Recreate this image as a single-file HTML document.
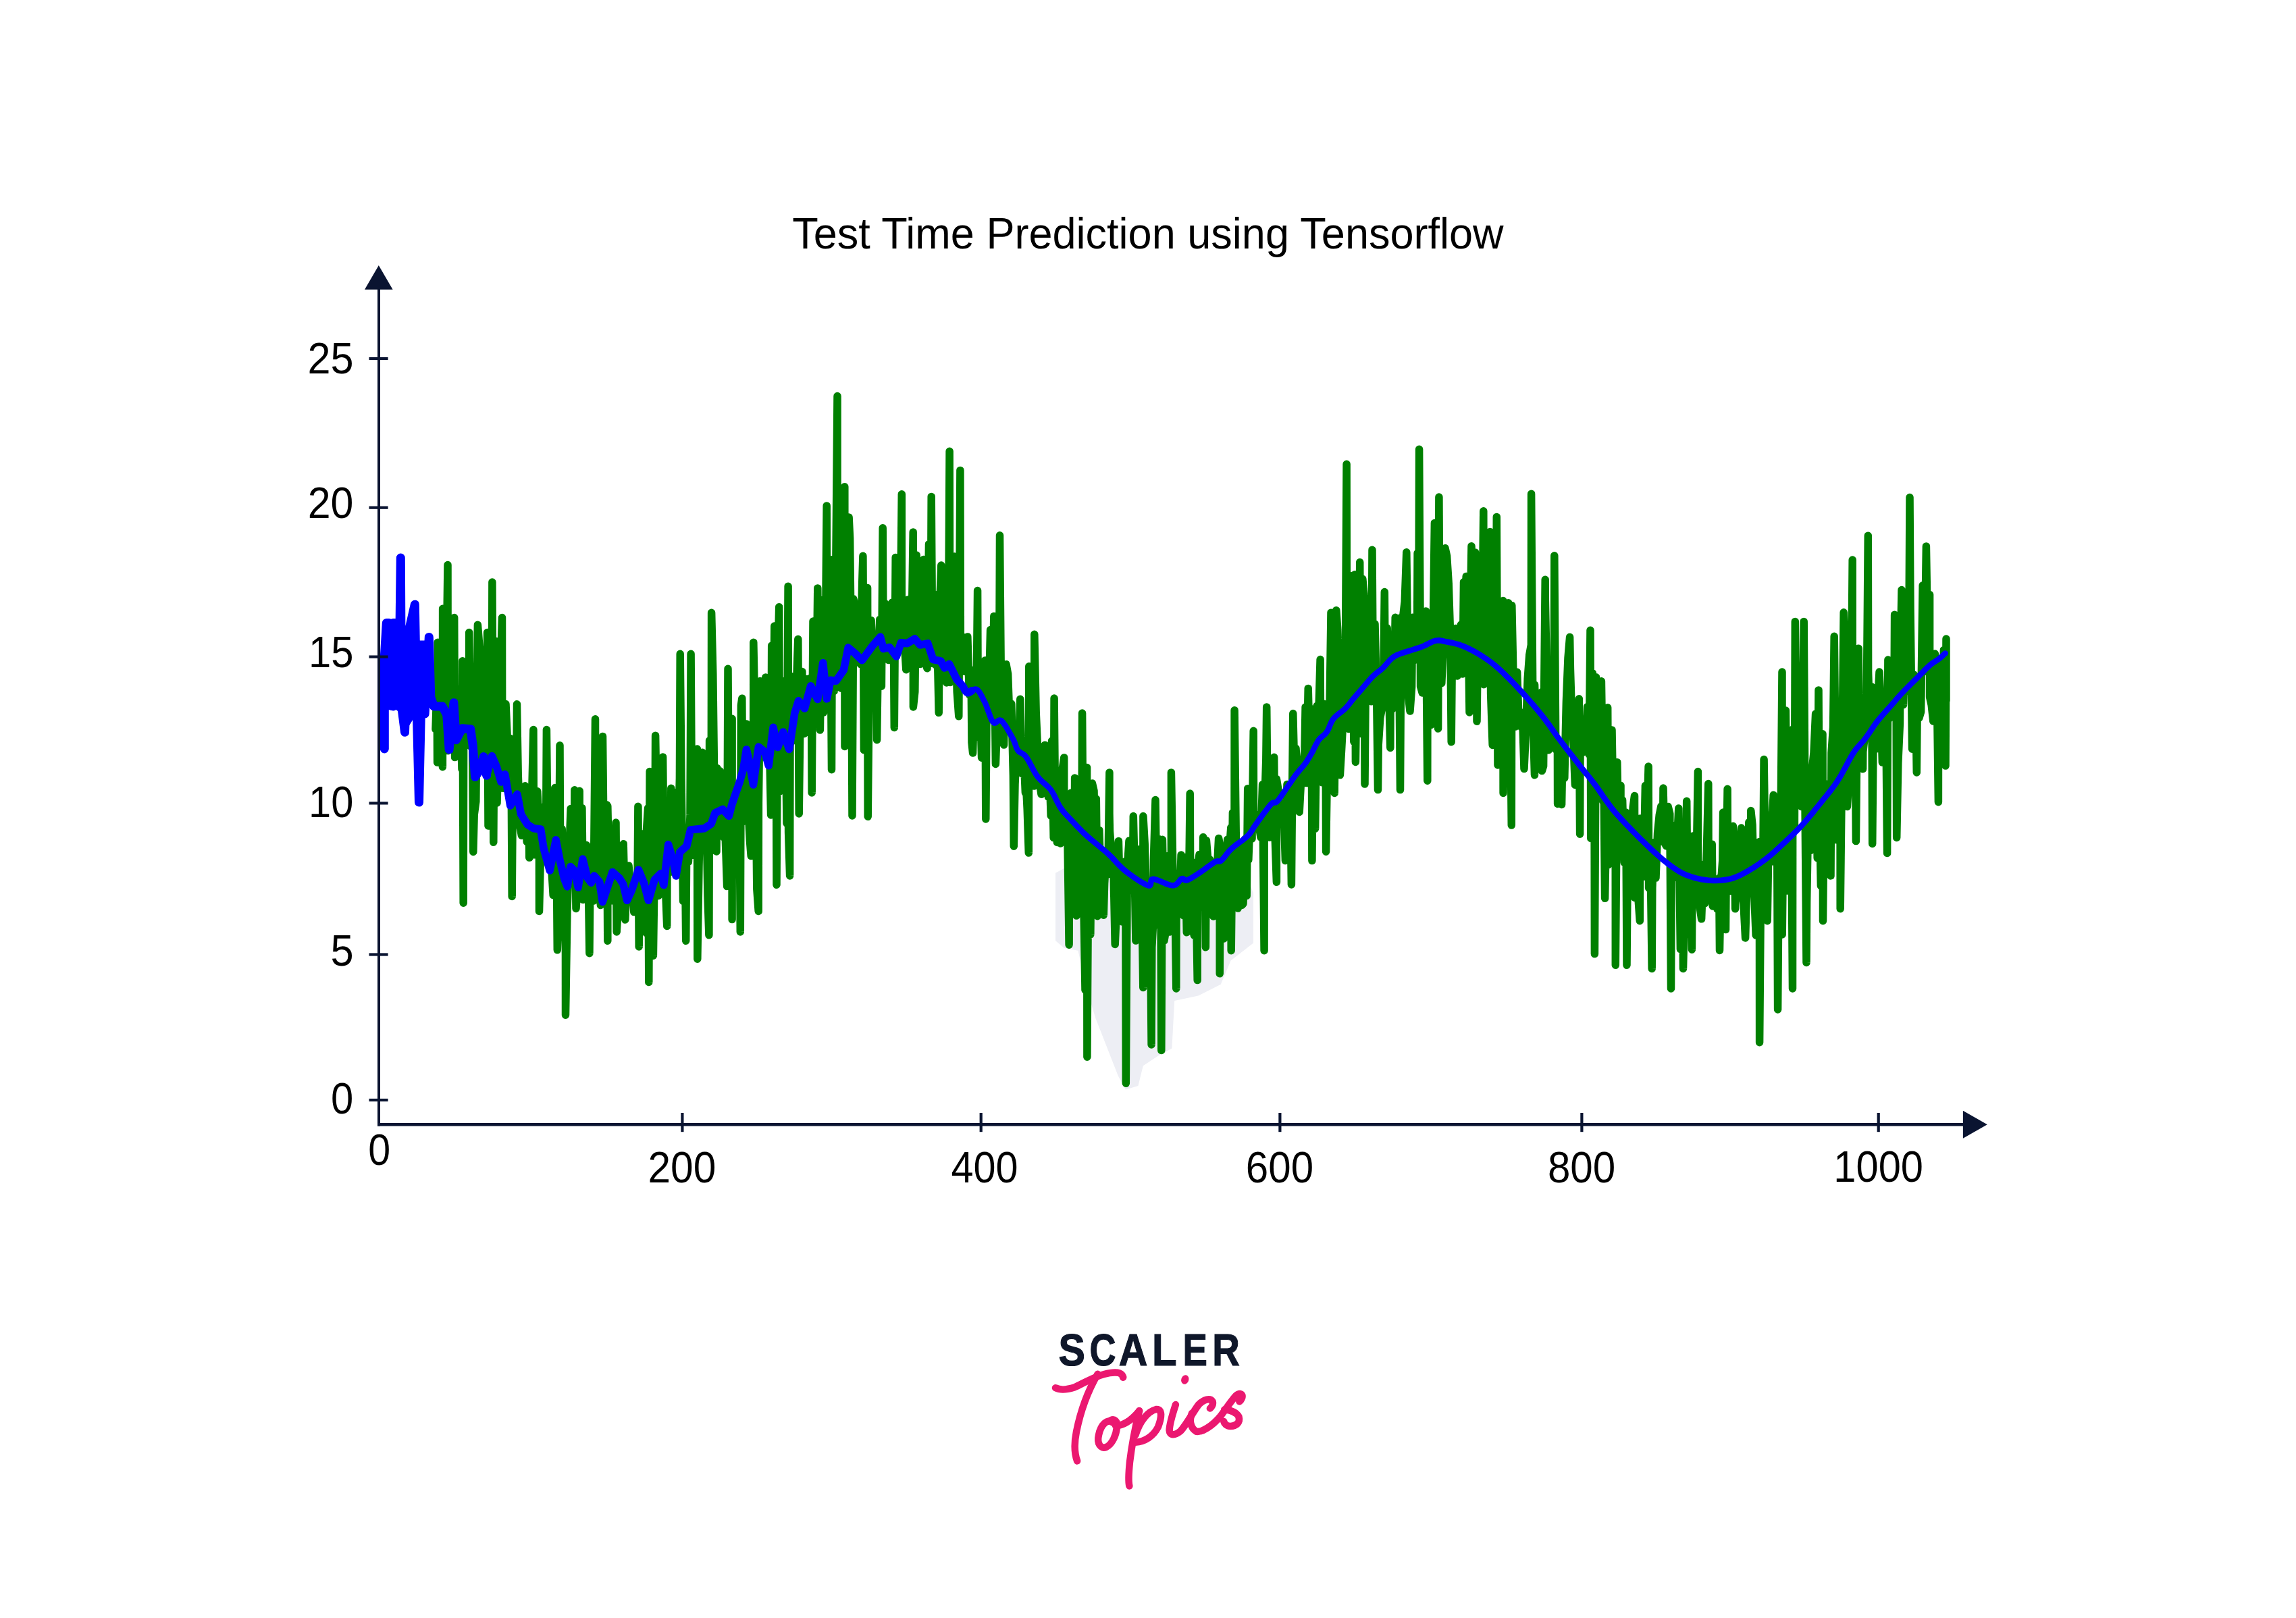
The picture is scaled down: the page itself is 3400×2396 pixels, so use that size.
<!DOCTYPE html>
<html><head><meta charset="utf-8"><style>
html,body{margin:0;padding:0;background:#fff;overflow:hidden;width:3400px;height:2396px;}
svg{display:block;}
text{font-family:"Liberation Sans",sans-serif;}
</style></head><body>
<svg width="3400" height="2396" viewBox="0 0 3400 2396">
<rect width="3400" height="2396" fill="#fff"/>
<text transform="translate(1173.18 367.90) scale(0.9851 1)" font-size="64" font-weight="normal" fill="#000">Test Time Prediction using Tensorflow</text>
<text transform="translate(455.52 552.50) scale(0.9559 1)" font-size="64" font-weight="normal" fill="#000">25</text>
<text transform="translate(455.64 767.30) scale(0.9516 1)" font-size="64" font-weight="normal" fill="#000">20</text>
<text transform="translate(457.05 988.00) scale(0.9336 1)" font-size="64" font-weight="normal" fill="#000">15</text>
<text transform="translate(457.06 1209.80) scale(0.9309 1)" font-size="64" font-weight="normal" fill="#000">10</text>
<text transform="translate(489.44 1430.40) scale(0.9590 1)" font-size="64" font-weight="normal" fill="#000">5</text>
<text transform="translate(490.06 1648.70) scale(0.9348 1)" font-size="64" font-weight="normal" fill="#000">0</text>
<text transform="translate(545.19 1725.40) scale(0.9250 1)" font-size="64" font-weight="normal" fill="#000">0</text>
<text transform="translate(959.46 1750.50) scale(0.9440 1)" font-size="64" font-weight="normal" fill="#000">200</text>
<text transform="translate(1408.44 1750.50) scale(0.9279 1)" font-size="64" font-weight="normal" fill="#000">400</text>
<text transform="translate(1844.85 1750.50) scale(0.9383 1)" font-size="64" font-weight="normal" fill="#000">600</text>
<text transform="translate(2291.88 1750.50) scale(0.9409 1)" font-size="64" font-weight="normal" fill="#000">800</text>
<text transform="translate(2715.36 1750.30) scale(0.9311 1)" font-size="64" font-weight="normal" fill="#000">1000</text>
<polygon points="1563.0,1292.8 1563.0,1392.9 1576.0,1404.0 1596.4,1407.7 1611.2,1470.8 1622.4,1507.9 1655.7,1593.1 1666.9,1613.5 1685.4,1608.0 1692.8,1578.3 1715.1,1563.5 1735.4,1552.4 1739.2,1481.9 1774.4,1474.5 1807.7,1457.8 1822.6,1422.6 1856.0,1396.6 1856.0,1322.5 1833.7,1266.9 1722.5,1322.5 1611.2,1266.9" fill="#edeef4"/>
<polyline points="645.0,1080.0 647.1,1014.2 647.6,1129.1 648.3,951.2 650.2,1082.4 652.8,957.2 655.4,1135.7 655.6,901.2 658.0,1095.6 660.6,1016.7 663.0,836.5 663.2,1111.8 664.9,922.7 665.8,1096.0 668.4,1093.3 671.0,1072.6 672.7,914.6 673.6,1121.6 676.2,1019.6 678.8,1069.4 681.4,1046.8 684.0,1139.0 684.9,978.8 686.2,1337.2 686.6,1096.6 689.2,1079.4 691.8,1052.8 694.4,1087.5 694.7,936.6 697.0,1105.3 699.6,1090.9 700.8,1261.5 702.2,1206.6 704.8,1187.1 707.4,925.2 710.0,958.1 712.6,1105.2 713.0,1062.3 715.2,1086.8 717.8,1135.7 719.1,1100.9 720.4,1138.9 721.6,936.6 723.0,1222.9 725.6,1036.8 728.2,1107.7 728.9,862.1 730.8,1247.3 732.1,1037.9 732.5,948.3 733.4,1187.1 736.0,1189.1 738.6,1102.9 739.4,991.0 741.2,995.5 743.5,914.6 743.8,1167.1 746.4,1167.4 749.0,1042.5 751.6,1099.4 754.2,1165.8 755.7,1093.6 756.8,1094.4 758.2,1327.4 759.4,1171.6 762.0,1189.1 764.6,1190.4 765.5,1042.8 767.2,1146.2 769.8,1222.0 772.4,1237.3 775.0,1219.2 777.6,1163.8 780.2,1246.5 782.8,1189.5 783.8,1270.1 785.4,1259.7 788.0,1161.6 789.9,1080.6 790.6,1265.8 793.2,1231.5 795.8,1171.8 798.4,1222.9 798.5,1349.4 801.0,1245.9 803.6,1261.0 806.2,1195.4 808.8,1190.9 809.4,1080.6 811.4,1268.0 814.0,1233.4 816.6,1282.4 819.2,1325.8 821.8,1166.6 824.4,1291.7 825.3,1406.8 827.0,1367.8 829.0,1103.8 829.6,1259.4 832.2,1227.4 834.8,1337.3 837.4,1302.1 837.5,1503.2 840.0,1349.5 842.6,1265.3 845.2,1197.4 847.8,1281.2 850.4,1262.0 850.9,1169.8 853.0,1345.4 855.6,1306.9 858.2,1171.3 858.3,1331.1 860.8,1205.7 861.9,1196.6 863.4,1332.3 866.0,1325.8 868.6,1251.5 871.2,1301.5 872.9,1411.7 873.8,1317.8 876.4,1319.0 879.0,1334.0 881.5,1064.8 881.6,1311.8 884.2,1295.3 886.8,1282.0 889.4,1340.4 892.0,1126.0 892.5,1090.4 894.6,1293.6 897.2,1307.5 898.6,1191.7 899.8,1393.3 899.8,1193.6 902.4,1318.4 905.0,1257.2 907.6,1333.9 910.2,1301.4 912.0,1218.1 912.8,1328.8 913.2,1379.9 915.4,1343.6 918.0,1320.1 920.6,1275.1 923.2,1249.8 925.8,1362.0 928.4,1303.0 931.0,1282.0 933.6,1313.0 936.2,1302.0 938.8,1350.6 941.4,1311.9 944.0,1311.0 944.9,1194.2 946.2,1401.9 946.6,1258.2 949.2,1332.4 951.8,1234.7 954.4,1341.5 957.0,1381.7 957.1,1235.2 959.6,1196.5 960.8,1454.4 962.2,1142.4 964.8,1331.1 967.4,1415.2 970.0,1228.2 970.6,1089.2 972.6,1210.8 975.2,1326.4 977.8,1237.4 980.4,1258.8 981.6,1120.9 983.0,1253.9 985.6,1317.7 987.7,1371.4 988.2,1243.3 990.8,1292.2 993.4,1259.7 993.8,1167.3 996.0,1188.7 998.6,1238.5 1001.2,1173.4 1003.8,1264.3 1006.4,1152.5 1007.2,968.3 1009.0,1153.6 1011.6,1334.5 1014.2,1246.7 1015.7,1393.3 1016.8,1243.8 1019.4,1276.1 1022.0,1206.9 1023.1,968.3 1024.6,1222.8 1027.2,1266.2 1029.8,1254.8 1032.4,1109.0 1032.8,1420.2 1035.0,1282.6 1037.6,1165.2 1040.2,1114.3 1042.6,1164.9 1042.8,1128.8 1045.4,1179.9 1048.0,1326.7 1049.9,1384.8 1050.6,1096.6 1053.2,1225.9 1053.6,907.3 1055.8,997.4 1058.4,1211.1 1061.0,1261.1 1062.1,1137.5 1063.6,1182.8 1066.2,1141.7 1068.8,1214.0 1071.4,1239.7 1074.0,1233.9 1076.6,1312.5 1078.0,990.3 1079.2,1196.2 1081.8,1142.0 1084.1,1064.3 1084.1,1361.6 1084.4,1168.3 1087.0,1169.1 1089.6,1178.0 1092.2,1164.8 1094.8,1175.4 1096.3,1379.9 1097.4,1044.5 1098.8,1034.3 1100.0,1216.8 1102.6,1113.6 1104.9,1072.8 1105.2,1071.9 1107.8,1194.4 1110.4,1245.0 1112.2,1267.6 1113.0,1176.5 1115.6,1145.4 1115.8,951.2 1118.2,1073.7 1120.8,1316.1 1123.2,1349.4 1123.4,1188.1 1125.6,1008.6 1126.0,1056.1 1128.6,1074.1 1131.2,1121.0 1133.8,1002.9 1136.4,1125.2 1139.0,1079.3 1141.6,1206.9 1142.7,956.1 1144.2,1184.2 1146.8,927.0 1149.4,1102.0 1150.0,1310.3 1152.0,974.1 1153.7,898.8 1154.6,1172.2 1157.2,1101.8 1159.8,1127.3 1162.4,1008.2 1165.0,1219.3 1167.1,868.2 1167.6,1232.5 1169.6,1296.9 1170.2,1000.5 1172.8,1098.0 1175.4,1021.6 1178.0,1061.6 1180.6,980.2 1181.8,946.4 1183.2,1204.9 1185.8,994.0 1187.9,994.7 1188.4,1031.2 1191.0,1086.6 1192.4,1007.1 1193.6,1005.4 1196.2,1025.8 1198.8,1004.7 1201.4,1018.8 1202.2,1173.9 1204.0,920.1 1206.6,985.3 1209.2,1004.6 1210.8,870.9 1211.8,991.5 1214.4,1022.7 1214.4,1081.1 1216.9,888.7 1217.0,976.2 1219.6,1055.1 1222.2,967.5 1224.2,748.9 1224.8,990.7 1227.4,914.5 1230.0,931.4 1231.5,1139.7 1232.6,828.4 1235.2,1023.4 1237.8,842.2 1240.0,586.5 1240.0,899.7 1240.4,893.9 1243.0,1017.5 1245.6,1019.1 1248.2,936.1 1250.8,720.7 1251.0,1105.5 1253.4,1017.7 1256.0,1003.4 1257.1,765.9 1258.6,797.5 1261.2,1037.9 1262.0,1208.0 1263.8,886.9 1266.4,897.2 1269.0,979.9 1271.6,957.9 1274.2,983.6 1276.8,859.7 1277.9,823.3 1279.4,1110.7 1282.0,923.6 1284.6,870.5 1285.2,1209.3 1287.2,1012.4 1289.8,940.9 1290.1,918.5 1292.4,988.5 1295.0,941.9 1297.6,958.7 1298.6,1095.7 1300.2,982.2 1302.8,917.2 1305.4,1016.3 1307.2,781.8 1308.0,931.9 1310.6,893.5 1313.2,961.3 1315.8,977.5 1317.0,932.0 1318.4,939.5 1321.0,892.2 1323.6,984.3 1324.3,1077.4 1326.2,825.4 1328.8,879.2 1331.4,957.1 1334.0,855.2 1335.3,731.8 1335.3,903.4 1336.6,957.3 1339.2,952.0 1341.8,991.8 1344.4,887.9 1347.0,909.3 1349.6,965.9 1352.2,787.9 1352.4,1046.9 1354.8,1024.4 1357.2,822.1 1357.4,905.2 1360.0,903.2 1362.6,983.4 1365.2,956.4 1367.8,828.5 1370.4,981.6 1373.0,989.7 1375.5,805.7 1375.6,931.1 1378.2,945.2 1379.2,735.4 1380.8,982.5 1383.4,880.0 1386.0,985.0 1388.6,980.8 1390.2,1055.5 1391.2,909.0 1393.8,837.1 1395.1,855.1 1396.4,959.7 1399.0,894.2 1401.6,1010.9 1404.2,995.0 1406.1,668.3 1406.8,1010.5 1409.4,1000.0 1412.0,1004.5 1413.4,824.0 1414.6,915.4 1417.2,1024.6 1419.8,1060.8 1421.9,696.4 1422.4,972.9 1425.0,943.1 1427.6,994.3 1430.2,959.5 1432.8,942.9 1435.4,1028.9 1438.0,992.0 1439.0,1099.4 1440.6,1115.1 1443.2,1029.9 1445.8,1052.0 1447.6,874.6 1448.4,1091.2 1451.0,1021.8 1453.6,1122.2 1456.2,990.6 1458.8,977.9 1459.8,1212.9 1461.4,1016.9 1464.0,1040.5 1466.6,932.6 1469.2,1052.7 1471.8,912.5 1474.4,1131.5 1477.0,1058.7 1479.6,1011.1 1480.5,792.8 1482.2,989.4 1484.8,1041.0 1486.6,1103.1 1487.4,1059.5 1490.0,983.7 1492.6,998.0 1495.2,1072.3 1497.8,1042.2 1500.4,1148.5 1501.3,1253.2 1503.0,1161.3 1505.6,1104.4 1508.2,1131.4 1510.8,1035.2 1513.4,1145.7 1516.0,1116.5 1518.4,1173.9 1518.6,1144.6 1521.2,1198.2 1523.3,1263.0 1523.8,986.8 1526.4,1144.2 1529.0,1065.0 1531.6,1164.1 1531.8,939.3 1534.2,1055.1 1536.8,1113.2 1539.4,1158.2 1542.0,1176.2 1544.6,1160.4 1547.2,1103.3 1549.8,1123.9 1552.4,1180.2 1555.0,1172.0 1556.2,1208.0 1557.6,1097.1 1560.2,1240.6 1561.1,1034.0 1562.8,1212.5 1565.4,1247.5 1568.0,1172.1 1570.6,1249.0 1573.2,1139.1 1575.7,1121.9 1575.8,1236.7 1578.4,1175.0 1581.0,1248.6 1583.1,1399.2 1583.6,1271.9 1586.2,1174.0 1588.8,1212.3 1591.4,1222.5 1591.6,1151.9 1594.0,1356.1 1596.6,1303.8 1599.2,1157.9 1601.8,1279.8 1602.6,1056.0 1604.4,1313.6 1607.0,1466.2 1609.6,1136.5 1609.9,1565.2 1612.2,1206.6 1614.8,1383.9 1617.4,1159.9 1620.0,1171.0 1622.6,1302.7 1623.3,1182.9 1625.2,1356.7 1627.0,1233.7 1627.8,1229.3 1630.4,1311.0 1633.0,1270.1 1634.3,1355.2 1635.6,1308.1 1638.2,1263.0 1640.8,1294.7 1642.9,1143.9 1642.9,1204.4 1643.4,1230.8 1646.0,1262.3 1648.6,1268.1 1651.2,1398.4 1653.8,1339.3 1656.4,1245.4 1659.0,1353.8 1661.6,1364.8 1664.2,1280.1 1666.8,1275.2 1667.3,1604.3 1669.4,1284.3 1672.0,1245.1 1674.6,1312.5 1677.2,1318.6 1678.3,1208.6 1679.8,1271.0 1681.9,1393.1 1682.4,1372.4 1685.0,1257.7 1687.6,1282.9 1690.2,1286.0 1692.8,1462.4 1692.9,1208.6 1695.4,1252.8 1698.0,1349.9 1700.6,1382.0 1703.2,1335.8 1705.1,1546.9 1705.8,1402.8 1707.6,1368.7 1708.4,1273.7 1711.0,1184.5 1713.6,1369.6 1716.2,1242.5 1718.8,1289.2 1719.8,1555.4 1721.4,1243.3 1724.0,1392.9 1726.6,1377.4 1729.2,1267.4 1731.8,1380.1 1734.4,1315.2 1734.4,1143.9 1737.0,1297.5 1739.6,1309.5 1741.8,1463.9 1742.2,1293.7 1744.8,1336.5 1747.4,1319.9 1749.1,1265.9 1750.0,1284.5 1752.6,1355.8 1755.2,1269.5 1757.3,1380.8 1757.8,1315.8 1760.4,1322.1 1762.2,1175.0 1763.0,1378.9 1765.6,1276.4 1768.2,1385.2 1770.8,1303.0 1773.2,1451.6 1773.4,1284.9 1776.0,1265.4 1778.6,1321.2 1781.2,1291.3 1781.7,1239.7 1783.8,1246.4 1785.4,1402.8 1786.4,1244.5 1789.0,1275.9 1791.6,1272.7 1794.2,1342.0 1796.8,1357.1 1799.4,1323.9 1802.0,1294.4 1804.6,1241.4 1806.2,1249.5 1806.2,1441.8 1807.2,1273.8 1809.8,1319.2 1812.4,1389.9 1815.0,1318.0 1817.6,1243.1 1820.2,1262.8 1822.8,1225.5 1823.2,1407.7 1825.4,1203.4 1828.0,1241.6 1828.1,1051.7 1830.6,1263.7 1833.2,1345.1 1835.8,1249.1 1838.4,1317.1 1839.1,1340.5 1841.0,1338.1 1843.6,1242.3 1846.2,1326.6 1847.7,1167.7 1848.8,1273.5 1851.4,1204.0 1854.0,1242.1 1856.2,1082.3 1856.6,1224.8 1859.2,1207.3 1861.8,1206.6 1864.4,1224.2 1867.0,1240.1 1869.6,1161.8 1872.1,1407.7 1872.2,1205.6 1874.8,1124.6 1875.7,1046.9 1877.4,1217.8 1880.0,1240.1 1882.6,1205.0 1885.2,1210.7 1886.7,1121.3 1887.8,1229.9 1890.4,1306.3 1890.4,1153.7 1893.0,1170.0 1895.6,1216.2 1898.2,1219.1 1900.8,1189.1 1903.4,1274.5 1906.0,1161.4 1908.6,1210.4 1911.2,1221.6 1912.4,1310.0 1913.8,1150.1 1914.8,1056.6 1916.4,1123.1 1919.0,1108.4 1921.6,1153.0 1924.2,1202.5 1926.8,1152.1 1929.4,1142.9 1932.0,1110.0 1933.1,1046.9 1934.6,1159.6 1937.2,1019.4 1939.8,1130.0 1942.4,1115.7 1942.9,1274.6 1945.0,1049.9 1947.6,1227.2 1950.2,1045.0 1952.8,1055.5 1955.1,976.6 1955.4,1048.3 1958.0,1158.8 1960.6,1042.3 1963.2,1126.6 1963.6,1261.2 1965.8,1118.7 1968.4,1093.4 1971.0,907.2 1973.6,993.3 1976.2,1174.4 1978.8,903.7 1980.7,931.4 1981.4,958.5 1984.0,1038.1 1984.4,1147.7 1986.6,1109.9 1989.2,1059.7 1991.8,1072.9 1994.1,687.3 1994.4,919.3 1997.0,1079.4 1999.6,1062.2 2001.5,1059.8 2002.2,852.6 2004.8,1098.3 2006.3,850.8 2007.4,1128.5 2010.0,941.5 2012.6,1027.7 2013.7,832.5 2015.2,1086.4 2017.8,857.2 2020.4,883.8 2021.0,1161.1 2023.0,928.6 2025.6,974.5 2028.2,971.5 2030.8,1038.7 2032.0,814.2 2033.4,1017.9 2036.0,923.9 2038.6,1030.1 2040.5,1169.6 2041.2,1103.2 2043.8,1062.8 2046.4,1049.2 2049.0,989.7 2050.3,876.5 2051.6,1045.8 2054.2,930.0 2056.8,1028.7 2058.8,1107.4 2059.4,977.4 2062.0,1049.9 2064.6,1006.5 2066.2,914.3 2067.2,939.7 2069.8,981.9 2072.4,1051.5 2073.5,1169.6 2075.0,914.1 2077.6,913.1 2080.2,891.0 2082.8,817.8 2084.5,950.9 2085.4,1030.0 2088.0,1053.0 2090.6,1017.4 2091.8,914.3 2093.2,978.4 2095.8,955.7 2098.4,976.4 2099.1,819.1 2101.0,888.0 2101.6,665.3 2103.6,1016.5 2106.2,1025.9 2108.8,1017.9 2111.4,904.9 2113.8,1156.2 2114.0,960.3 2116.6,938.7 2119.2,1073.4 2121.8,965.6 2124.4,774.4 2127.0,979.7 2129.6,1079.1 2130.9,736.1 2132.2,998.6 2134.8,1011.6 2137.4,954.8 2138.2,882.6 2140.0,811.7 2142.6,823.3 2145.2,863.8 2147.8,944.2 2149.2,1098.8 2150.4,968.6 2153.0,987.2 2155.3,971.2 2155.6,930.4 2158.2,1001.0 2160.8,943.9 2163.4,925.1 2166.0,998.0 2167.5,861.8 2168.6,916.8 2171.2,853.6 2173.8,890.2 2176.0,1054.9 2176.4,966.4 2179.0,808.7 2181.6,941.1 2184.2,944.0 2184.6,817.9 2186.8,868.9 2187.0,1068.3 2189.4,865.7 2192.0,938.8 2194.6,934.2 2196.8,756.8 2197.2,1013.8 2199.8,988.1 2202.4,862.9 2205.0,917.5 2206.5,787.4 2207.6,1027.2 2210.2,1103.4 2212.8,1010.6 2213.9,872.3 2215.4,1012.7 2216.3,765.4 2218.0,1132.9 2220.6,991.4 2223.2,972.0 2225.8,889.4 2226.1,1174.5 2228.4,960.5 2231.0,1160.5 2233.6,892.7 2236.2,1008.5 2238.3,1222.1 2238.8,896.5 2241.4,1021.8 2244.0,1076.1 2246.6,995.3 2249.2,1069.6 2251.8,1071.1 2252.9,1076.9 2254.4,1055.6 2257.0,1138.6 2259.6,1081.2 2262.2,1004.8 2264.8,969.4 2267.4,954.9 2267.6,731.2 2270.0,1060.8 2272.5,1147.7 2272.6,1013.9 2275.2,1123.5 2277.8,1111.0 2280.4,1034.2 2283.0,1024.7 2283.4,1141.6 2285.6,1134.4 2288.2,858.3 2288.3,888.7 2290.8,1019.8 2293.4,1110.7 2296.0,1000.5 2298.6,1039.9 2301.2,1053.6 2301.8,822.8 2303.8,1109.9 2306.4,1095.2 2306.6,1190.4 2309.0,1106.9 2311.6,1115.9 2312.6,1191.5 2314.2,1101.7 2316.8,1152.2 2319.4,1039.1 2322.0,974.4 2324.6,943.4 2325.4,989.8 2327.2,1049.3 2329.8,1097.3 2332.4,1162.2 2335.0,1134.1 2337.6,1092.1 2338.3,1034.8 2339.6,1235.2 2340.2,1063.5 2342.8,1102.2 2345.4,1113.6 2348.0,1105.3 2350.6,1046.5 2351.1,1077.3 2353.2,1117.3 2355.0,933.3 2355.8,1241.4 2358.4,996.8 2361.0,1143.6 2361.4,1412.6 2363.6,1002.8 2366.2,1183.3 2366.6,1034.8 2368.8,1113.0 2371.4,1008.7 2374.0,1186.9 2374.3,1083.7 2376.6,1330.3 2379.2,1193.9 2379.4,1235.2 2380.7,1047.7 2381.8,1280.7 2384.4,1187.9 2387.0,1080.9 2389.6,1235.5 2392.2,1180.0 2392.3,1429.3 2394.8,1128.7 2397.4,1264.9 2400.0,1163.2 2400.0,1231.1 2402.6,1184.7 2405.2,1277.3 2407.8,1203.1 2409.0,1429.3 2410.4,1266.1 2413.0,1205.7 2415.6,1263.2 2418.2,1195.6 2420.5,1178.6 2420.8,1329.4 2423.4,1252.3 2426.0,1331.0 2428.3,1363.7 2428.6,1212.0 2431.2,1226.3 2433.8,1298.1 2436.4,1163.3 2439.0,1210.0 2441.1,1134.9 2441.6,1315.1 2444.2,1283.1 2446.2,1434.4 2446.8,1315.0 2449.4,1247.5 2452.0,1300.1 2454.6,1233.5 2457.2,1207.2 2459.8,1194.1 2462.4,1246.5 2463.0,1167.0 2465.0,1248.3 2467.6,1252.8 2470.2,1194.6 2472.8,1205.2 2474.5,1464.0 2475.4,1260.8 2478.0,1299.8 2480.6,1261.8 2481.0,1222.3 2483.2,1251.4 2485.8,1197.1 2488.4,1405.7 2491.0,1236.5 2492.5,1434.4 2493.6,1387.3 2496.2,1380.9 2497.7,1186.3 2498.8,1309.1 2501.4,1266.0 2504.0,1301.8 2505.4,1406.2 2506.6,1238.1 2509.2,1309.3 2511.8,1298.5 2514.4,1142.6 2514.4,1322.8 2517.0,1341.9 2519.6,1360.8 2520.8,1327.8 2522.2,1280.3 2524.8,1337.6 2527.4,1259.8 2529.8,1160.6 2530.0,1254.6 2532.6,1269.3 2535.2,1250.3 2536.2,1341.9 2537.8,1336.1 2540.4,1334.1 2543.0,1346.2 2545.6,1300.5 2546.5,1407.5 2548.2,1311.0 2550.8,1274.2 2551.6,1203.0 2553.4,1247.4 2555.5,1376.6 2556.0,1316.0 2558.1,1168.3 2558.6,1309.2 2561.2,1251.3 2563.8,1319.4 2566.4,1223.3 2569.0,1289.1 2569.6,1345.8 2571.6,1269.2 2574.2,1272.6 2576.8,1248.8 2578.6,1226.1 2579.4,1318.9 2582.0,1338.4 2584.6,1389.1 2587.2,1299.7 2589.8,1217.6 2592.4,1265.7 2592.8,1200.4 2595.0,1221.5 2597.6,1321.1 2600.2,1384.9 2602.8,1306.8 2605.4,1246.5 2605.6,1543.7 2608.0,1256.4 2610.6,1290.6 2612.1,1124.6 2613.2,1200.8 2615.8,1281.9 2617.2,1363.7 2618.4,1284.4 2621.0,1215.6 2623.6,1225.0 2626.2,1177.3 2626.2,1275.7 2628.8,1186.0 2631.4,1184.2 2632.6,1494.9 2634.0,1314.8 2636.6,1268.5 2639.0,995.0 2639.2,1384.0 2641.8,1138.7 2644.4,1052.1 2647.0,1319.1 2649.6,1318.6 2652.2,1157.7 2654.5,1464.0 2654.8,1079.9 2657.4,1224.7 2658.3,920.4 2660.0,1048.1 2662.6,1189.4 2665.2,1002.5 2666.0,1079.9 2667.8,1194.5 2670.4,1006.8 2671.2,920.4 2673.0,1189.2 2675.0,1425.4 2675.6,1335.7 2678.2,1180.8 2680.8,1259.6 2683.4,1140.2 2686.0,1114.6 2688.6,1057.0 2691.2,1270.6 2693.0,1021.9 2693.8,1182.3 2696.4,1311.8 2699.0,1086.8 2699.5,1363.7 2701.6,1159.9 2704.2,1179.5 2706.8,1259.5 2709.4,1283.6 2711.0,1296.9 2712.0,1115.0 2714.6,1076.8 2716.2,942.3 2717.2,1031.3 2719.8,1243.8 2722.4,1136.7 2725.0,1074.1 2725.2,1345.8 2727.6,1133.1 2730.2,906.8 2732.8,956.1 2735.4,1194.5 2738.0,1153.1 2740.6,1131.8 2743.2,829.1 2743.2,1006.9 2745.8,1157.3 2747.0,1036.2 2748.4,1245.6 2751.0,976.0 2752.2,960.2 2753.6,1101.4 2756.2,1051.9 2758.6,1138.8 2758.8,1113.2 2761.4,1090.3 2764.0,1070.9 2766.3,793.2 2766.6,996.3 2769.2,1077.0 2771.8,1017.0 2772.7,1249.4 2774.4,1058.3 2777.0,1062.9 2779.6,1108.8 2782.2,1009.8 2783.0,995.0 2784.8,1030.4 2787.4,1129.0 2790.0,1033.9 2792.6,1046.5 2794.6,1263.5 2795.2,1108.1 2795.9,977.0 2797.8,1063.9 2800.4,1048.0 2803.0,1054.4 2804.9,1051.6 2805.6,910.2 2808.2,1067.1 2808.7,1240.4 2810.8,1130.3 2813.4,1071.5 2813.9,989.8 2816.0,873.6 2818.6,1043.7 2821.2,932.6 2823.8,994.2 2826.4,1023.2 2828.0,736.6 2829.0,900.9 2831.6,1109.2 2834.2,999.0 2836.8,1040.5 2838.3,1144.0 2839.4,1031.4 2842.0,1062.8 2844.6,1054.1 2847.2,866.8 2849.8,994.5 2852.4,808.9 2855.0,972.2 2857.6,880.6 2857.6,1032.3 2860.2,1044.1 2862.8,1068.1 2865.4,968.1 2868.0,999.7 2870.4,1187.7 2870.6,983.0 2873.0,995.0 2873.2,1062.8 2875.8,1084.5 2878.4,962.4 2881.0,1134.1 2882.0,946.1 2882.0,1037.4" fill="none" stroke="#008000" stroke-width="11.5" stroke-linejoin="round" stroke-linecap="round"/>
<polygon points="567.8,918.7 584.7,918.7 589.6,938.5 604.4,938.5 608.1,948.4 629.1,948.4 640.2,944.7 641.5,1042.3 629.1,1057.1 616.8,1057.1 604.4,1076.9 594.5,1057.1 584.7,1049.7 574.8,1047.2 573.5,1106.5 563.4,1106.5 563.4,973.1 567.8,968.1" fill="#0000ff"/>
<polyline points="569.3,1109.0 569.3,973.1 572.3,922.4 576.0,922.4 576.0,1044.7 582.2,1046.0 582.2,922.4 592.1,922.4 593.3,826.1 594.5,1044.7 599.5,1084.3 604.4,938.5 614.3,895.2 616.8,1032.4 620.5,1188.1 625.4,958.3 629.1,1057.1 635.3,943.4 637.8,1032.4 642.5,1045.9 654.9,1045.9 661.7,1058.3 665.1,1109.8 671.9,1040.8 675.3,1095.7 684.4,1078.7 696.8,1079.8 700.2,1103.6 703.6,1150.6 709.3,1142.1 716.1,1120.6 720.6,1148.3" fill="none" stroke="#0000ff" stroke-width="13" stroke-linejoin="round" stroke-linecap="round"/>
<polyline points="569.3,1109.0 569.3,973.1 572.3,922.4 576.0,922.4 576.0,1044.7 582.2,1046.0 582.2,922.4 592.1,922.4 593.3,826.1 594.5,1044.7 599.5,1084.3 604.4,938.5 614.3,895.2 616.8,1032.4 620.5,1188.1 625.4,958.3 629.1,1057.1 635.3,943.4 637.8,1032.4 642.5,1045.9 654.9,1045.9 661.7,1058.3 665.1,1109.8 671.9,1040.8 675.3,1095.7 684.4,1078.7 696.8,1079.8 700.2,1103.6 703.6,1150.6 709.3,1142.1 716.1,1120.6 720.6,1148.3 728.5,1119.5 735.3,1135.3 742.1,1158.0 747.8,1146.6 755.7,1193.1 765.9,1176.1 771.6,1206.0 781.3,1221.2 790.4,1226.8 800.6,1228.0 805.1,1256.3 814.2,1289.1 823.2,1243.8 828.9,1273.2 835.7,1301.6 840.2,1312.9 844.7,1283.4 851.5,1290.2 856.1,1314.0 862.9,1272.1 869.7,1299.3 875.3,1307.2 879.9,1297.0 887.8,1306.1 892.3,1335.5 907.0,1291.4 917.2,1300.4 922.9,1309.5 928.6,1333.3 935.3,1318.6 945.5,1288.0 953.5,1307.2 960.3,1333.3 969.3,1302.7 978.4,1293.6 982.9,1310.6 989.7,1250.6 996.5,1273.2 1001.0,1297.0 1006.7,1261.9 1016.9,1252.9 1022.6,1228.9 1043.0,1226.7 1053.2,1219.9 1058.9,1204.0 1070.2,1198.4 1079.3,1208.5 1083.8,1191.6 1089.5,1174.6 1095.1,1158.7 1100.8,1138.3 1105.3,1110.0 1108.7,1123.6 1115.5,1162.1 1120.0,1129.3 1123.4,1106.1 1132.5,1113.4 1138.2,1133.8 1145.0,1077.2 1151.8,1106.6 1159.7,1084.0 1168.7,1109.5 1176.8,1055.9 1182.5,1037.8 1191.5,1049.1 1200.6,1015.7 1210.8,1035.5 1218.7,981.7 1224.4,1034.9 1230.0,1007.2 1238.0,1008.3 1249.3,992.5 1256.1,959.1 1266.3,967.6 1276.5,977.8 1292.3,956.2 1303.6,943.2 1308.2,960.8 1317.2,958.5 1327.4,972.1 1334.2,951.7 1343.3,952.8 1354.6,946.0 1362.5,955.1 1373.9,952.8 1381.8,976.6 1393.1,978.9 1398.8,989.1 1405.6,983.4 1416.9,1006.1 1425.9,1016.3 1426.6,1017.5 1427.5,1019.3 1428.6,1021.4 1429.8,1023.3 1431.3,1024.9 1432.9,1025.8 1434.8,1025.5 1437.0,1024.3 1439.3,1022.7" fill="none" stroke="#0000ff" stroke-width="11.5" stroke-linejoin="round" stroke-linecap="round"/>
<polyline points="1405.6,983.4 1416.9,1006.1 1425.9,1016.3 1426.6,1017.5 1427.5,1019.3 1428.6,1021.4 1429.8,1023.3 1431.3,1024.9 1432.9,1025.8 1434.8,1025.5 1437.0,1024.3 1439.3,1022.7 1441.7,1021.3 1444.1,1020.5 1446.3,1020.9 1448.5,1022.6 1450.5,1025.3 1452.5,1028.5 1454.5,1032.3 1456.5,1036.3 1458.6,1040.4 1460.6,1045.1 1462.6,1050.7 1464.7,1056.5 1466.7,1062.0 1468.7,1066.6 1470.8,1069.7 1472.7,1070.8 1474.6,1070.2 1476.6,1068.7 1478.5,1067.1 1480.7,1066.4 1483.0,1067.3 1485.6,1070.2 1488.7,1074.4 1491.8,1079.5 1494.9,1084.8 1497.7,1089.9 1500.1,1094.2 1501.8,1097.7 1503.0,1100.9 1504.0,1103.8 1504.9,1106.5 1506.0,1108.9 1507.4,1111.2 1509.1,1113.1 1510.9,1114.3 1512.9,1115.4 1515.0,1116.6 1517.2,1118.3 1519.6,1121.0 1522.1,1124.9 1524.8,1129.7 1527.7,1135.1 1530.6,1140.5 1533.6,1145.8 1536.7,1150.3 1539.9,1154.0 1543.2,1157.3 1546.6,1160.2 1550.0,1163.2 1553.2,1166.3 1556.2,1169.8 1558.9,1174.0 1561.3,1178.4 1563.5,1183.1 1565.8,1187.8 1568.2,1192.4 1570.9,1196.7 1573.8,1200.7 1577.0,1204.5 1580.3,1208.1 1583.7,1211.7 1587.1,1215.2 1590.4,1218.7 1593.5,1222.0 1596.4,1225.1 1599.4,1228.1 1602.5,1231.2 1606.0,1234.6 1609.9,1238.2 1614.6,1242.3 1619.9,1246.7 1625.5,1251.3 1631.2,1256.0 1636.7,1260.6 1641.7,1265.1 1646.0,1269.3 1650.0,1273.5 1653.7,1277.6 1657.5,1281.6 1661.5,1285.6 1666.1,1289.5 1671.5,1293.6 1677.7,1298.2 1684.2,1302.6 1690.5,1306.6 1696.0,1309.6 1700.3,1311.4 1702.8,1311.4 1703.9,1309.8 1704.2,1307.3 1704.5,1304.7 1705.4,1302.5 1707.6,1301.7 1711.4,1302.4 1716.3,1304.2 1721.9,1306.6 1727.5,1309.0 1732.7,1310.8 1736.9,1311.4 1740.1,1310.7 1742.7,1309.0 1744.8,1306.7 1746.7,1304.4 1748.3,1302.3 1750.0,1301.1 1751.4,1300.9 1752.5,1301.4 1753.4,1302.3 1754.4,1303.2 1755.6,1303.7 1757.3,1303.6 1759.5,1302.7 1762.0,1301.5 1764.8,1299.9 1767.8,1298.0 1771.0,1296.0 1774.4,1293.8 1778.2,1291.2 1782.6,1288.1 1787.1,1284.8 1791.5,1281.6 1795.5,1278.8 1798.8,1276.7 1801.2,1275.6 1803.0,1275.3 1804.3,1275.5 1805.5,1275.6 1806.9,1275.3 1808.6,1274.3 1810.6,1272.3 1812.8,1269.7 1815.0,1266.8 1817.5,1263.6 1820.2,1260.3 1823.2,1257.2 1826.9,1254.0 1831.1,1250.7 1835.6,1247.4 1840.1,1244.1 1844.2,1240.8 1847.7,1237.6 1850.3,1234.8 1852.3,1232.2 1853.9,1229.7 1855.5,1227.1 1857.4,1224.1 1859.9,1220.5 1863.1,1216.1 1866.9,1210.8 1871.0,1205.1 1875.1,1199.7 1878.8,1194.9 1881.8,1191.2 1884.1,1189.2 1885.7,1188.5 1887.0,1188.5 1888.3,1188.5 1889.7,1188.0 1891.6,1186.4 1894.1,1183.3 1896.9,1179.4 1900.0,1174.9 1903.1,1170.3 1906.0,1165.8 1908.7,1162.0 1911.0,1158.7 1913.1,1155.6 1915.1,1152.8 1917.0,1150.1 1918.9,1147.5 1920.9,1144.9 1923.0,1142.3 1925.1,1139.8 1927.2,1137.5 1929.2,1135.1 1931.2,1132.7 1933.1,1130.2 1934.9,1127.7 1936.5,1125.1 1938.1,1122.5 1939.7,1119.9 1941.3,1117.1 1942.9,1114.3 1944.5,1111.4 1946.0,1108.2 1947.6,1105.0 1949.2,1101.8 1950.9,1098.8 1952.6,1096.0 1954.6,1093.7 1956.6,1091.8 1958.7,1090.0 1960.9,1088.2 1962.9,1086.2 1964.8,1083.8 1966.5,1080.9 1968.0,1077.7 1969.4,1074.2 1970.9,1070.7 1972.6,1067.4 1974.6,1064.3 1977.1,1061.6 1979.9,1059.1 1983.0,1056.7 1986.1,1054.3 1989.0,1052.0 1991.7,1049.6 1994.0,1047.2 1996.1,1044.8 1998.1,1042.3 2000.0,1039.9 2001.9,1037.4 2003.9,1035.0 2005.9,1032.7 2007.8,1030.5 2009.7,1028.2 2011.7,1026.0 2013.8,1023.5 2016.1,1020.9 2018.7,1017.8 2021.5,1014.5 2024.5,1011.0 2027.5,1007.5 2030.4,1004.2 2033.2,1001.3 2035.8,998.9 2038.2,996.9 2040.5,995.1 2042.9,993.3 2045.3,991.4 2047.9,989.1 2050.4,986.5 2053.0,983.5 2055.6,980.4 2058.4,977.4 2061.5,974.5 2064.9,972.0 2069.0,969.9 2073.6,968.1 2078.5,966.4 2083.4,964.9 2087.9,963.5 2091.8,962.3 2094.9,961.2 2097.4,960.4 2099.6,959.7 2101.7,959.1 2103.9,958.4 2106.4,957.4 2109.5,956.1 2112.8,954.4 2116.2,952.7 2119.6,951.1 2122.9,949.7 2126.0,948.8 2128.6,948.4 2130.9,948.3 2133.0,948.5 2135.2,948.9 2137.7,949.5 2140.6,950.1 2144.1,950.7 2148.0,951.5 2152.2,952.4 2156.5,953.5 2160.9,954.7 2165.0,956.2 2169.1,957.8 2173.2,959.6 2177.2,961.6 2181.3,963.7 2185.4,966.0 2189.5,968.4 2193.5,970.9 2197.6,973.5 2201.7,976.2 2205.7,979.1 2209.8,982.2 2213.9,985.5 2217.9,988.9 2222.0,992.6 2226.1,996.5 2230.1,1000.5 2234.2,1004.5 2238.3,1008.7 2242.4,1012.8 2246.4,1017.1 2250.5,1021.5 2254.6,1025.9 2258.6,1030.4 2262.7,1035.0 2266.8,1039.7 2270.9,1044.5 2275.0,1049.3 2279.1,1054.2 2283.1,1059.2 2287.1,1064.3 2290.9,1069.4 2294.6,1074.4 2298.2,1079.5 2301.9,1084.8 2305.8,1090.3 2310.1,1096.0 2314.9,1102.3 2320.1,1109.1 2325.6,1116.2 2331.1,1123.1 2336.2,1129.7 2340.8,1135.6 2344.8,1140.5 2348.3,1144.8 2351.4,1148.6 2354.6,1152.5 2357.8,1156.6 2361.4,1161.3 2365.4,1166.8 2369.6,1172.8 2373.9,1179.1 2378.4,1185.5 2382.8,1191.6 2387.1,1197.3 2391.4,1202.5 2395.7,1207.4 2400.0,1212.0 2404.3,1216.6 2408.5,1221.1 2412.8,1225.5 2417.1,1230.0 2421.4,1234.4 2425.7,1238.7 2430.0,1243.0 2434.3,1247.1 2438.5,1251.2 2442.8,1255.3 2447.1,1259.3 2451.4,1263.3 2455.7,1267.1 2460.0,1270.9 2464.2,1274.4 2468.5,1277.8 2472.8,1281.1 2477.1,1284.3 2481.4,1287.2 2485.7,1290.0 2489.9,1292.4 2494.2,1294.5 2498.5,1296.3 2502.8,1297.8 2507.1,1299.2 2511.4,1300.4 2515.7,1301.4 2519.9,1302.3 2524.2,1302.9 2528.5,1303.5 2532.8,1303.8 2537.1,1304.0 2541.4,1303.9 2545.6,1303.8 2549.9,1303.5 2554.2,1303.0 2558.5,1302.3 2562.8,1301.3 2567.1,1300.1 2571.4,1298.5 2575.6,1296.7 2579.9,1294.5 2584.2,1292.2 2588.5,1289.8 2592.8,1287.2 2597.1,1284.6 2601.3,1281.8 2605.6,1278.9 2609.9,1275.8 2614.2,1272.6 2618.5,1269.2 2622.8,1265.7 2627.1,1262.0 2631.3,1258.2 2635.6,1254.2 2639.9,1250.2 2644.2,1246.1 2648.5,1242.0 2652.8,1237.9 2657.0,1233.7 2661.3,1229.4 2665.6,1225.0 2669.9,1220.4 2674.2,1215.6 2678.5,1210.6 2682.8,1205.5 2687.0,1200.2 2691.3,1194.9 2695.6,1189.6 2699.9,1184.2 2704.3,1178.9 2708.6,1173.5 2712.9,1167.9 2717.2,1162.2 2721.3,1156.1 2725.4,1149.5 2729.4,1142.3 2733.4,1134.9 2737.2,1127.7 2740.9,1121.0 2744.4,1115.2 2747.7,1110.5 2750.8,1106.6 2753.8,1103.3 2756.6,1100.2 2759.5,1097.0 2762.4,1093.3 2765.4,1089.2 2768.4,1084.8 2771.4,1080.4 2774.4,1075.9 2777.4,1071.6 2780.4,1067.6 2783.4,1063.9 2786.4,1060.4 2789.4,1057.0 2792.4,1053.7 2795.4,1050.4 2798.4,1047.0 2801.4,1043.6 2804.3,1040.2 2807.3,1036.8 2810.2,1033.3 2813.3,1029.9 2816.4,1026.5 2819.7,1023.1 2823.1,1019.6 2826.5,1016.2 2830.0,1012.8 2833.5,1009.3 2837.0,1005.9 2840.5,1002.4 2844.1,998.6 2847.8,994.9 2851.3,991.3 2854.6,988.1 2857.6,985.3 2860.2,983.2 2862.5,981.5 2864.6,980.1 2866.6,978.9 2868.5,977.7 2870.4,976.3 2872.4,974.7 2874.4,973.0 2876.4,971.3 2878.1,969.7 2879.6,968.3 2880.7,967.4" fill="none" stroke="#0000ff" stroke-width="8.5" stroke-linejoin="round" stroke-linecap="round"/>
<line x1="561" y1="426" x2="561" y2="1667.5" stroke="#0a1431" stroke-width="4"/>
<line x1="559" y1="1665.3" x2="2910" y2="1665.3" stroke="#0a1431" stroke-width="4.4"/>
<polygon points="560.8,393 540,428.7 581.6,428.7" fill="#0a1431"/>
<polygon points="2906.9,1644.8 2942.8,1665.3 2906.9,1685.8" fill="#0a1431"/>
<line x1="546.5" y1="531" x2="574.6" y2="531" stroke="#0a1431" stroke-width="4.2"/>
<line x1="546.5" y1="751.7" x2="574.6" y2="751.7" stroke="#0a1431" stroke-width="4.2"/>
<line x1="546.5" y1="972.6" x2="574.6" y2="972.6" stroke="#0a1431" stroke-width="4.2"/>
<line x1="546.5" y1="1189.4" x2="574.6" y2="1189.4" stroke="#0a1431" stroke-width="4.2"/>
<line x1="546.5" y1="1413.5" x2="574.6" y2="1413.5" stroke="#0a1431" stroke-width="4.2"/>
<line x1="546.5" y1="1629" x2="574.6" y2="1629" stroke="#0a1431" stroke-width="4.2"/>
<line x1="1010.4" y1="1648" x2="1010.4" y2="1676.2" stroke="#0a1431" stroke-width="4.2"/>
<line x1="1452.7" y1="1648" x2="1452.7" y2="1676.2" stroke="#0a1431" stroke-width="4.2"/>
<line x1="1895.4" y1="1648" x2="1895.4" y2="1676.2" stroke="#0a1431" stroke-width="4.2"/>
<line x1="2342.4" y1="1648" x2="2342.4" y2="1676.2" stroke="#0a1431" stroke-width="4.2"/>
<line x1="2781.7" y1="1648" x2="2781.7" y2="1676.2" stroke="#0a1431" stroke-width="4.2"/>
<text transform="translate(1567.40 2021.60) scale(0.8953 1)" font-size="66" font-weight="bold" fill="#0f172a" stroke="#0f172a" stroke-width="1.2">S</text>
<text transform="translate(1613.39 2021.60) scale(0.8181 1)" font-size="66" font-weight="bold" fill="#0f172a" stroke="#0f172a" stroke-width="1.2">C</text>
<text transform="translate(1656.83 2021.60) scale(0.8943 1)" font-size="66" font-weight="bold" fill="#0f172a" stroke="#0f172a" stroke-width="1.2">A</text>
<text transform="translate(1706.09 2021.60) scale(0.9094 1)" font-size="66" font-weight="bold" fill="#0f172a" stroke="#0f172a" stroke-width="1.2">L</text>
<text transform="translate(1751.55 2021.60) scale(0.8264 1)" font-size="66" font-weight="bold" fill="#0f172a" stroke="#0f172a" stroke-width="1.2">E</text>
<text transform="translate(1795.24 2021.60) scale(0.8521 1)" font-size="66" font-weight="bold" fill="#0f172a" stroke="#0f172a" stroke-width="1.2">R</text>
<g fill="none" stroke="#eb1870" stroke-width="10.5" stroke-linecap="round" stroke-linejoin="round">
<path d="M1563,2055.2 C1570,2059 1580,2058 1590.8,2054.6 C1605,2048 1620,2039 1635,2035 C1648,2031.5 1658,2032 1661,2035.5 C1664,2039 1663,2040 1663.1,2039.8"/>
<path d="M1625.4,2034.8 C1612,2058 1600,2090 1594,2120 C1590,2140 1591,2152 1595.1,2163.4"/>
<path d="M1647.7,2106.6 C1640,2100 1630,2110 1627,2125 C1624,2138 1630,2146 1638,2143 C1647,2139 1653,2125 1654,2113 C1655,2104 1650,2101 1645,2103 M1652,2111 C1662,2112 1675,2104 1687.1,2089.3"/>
<path d="M1687.1,2089.3 C1682,2110 1676,2140 1673,2165 C1671,2185 1671,2195 1672.4,2200.5"/>
<path d="M1681.5,2125 C1688,2104 1700,2090 1712,2087 C1722,2086 1720,2100 1715,2113 C1708,2127 1695,2135 1681.5,2135.7"/>
<path d="M1740.9,2080.1 C1736,2095 1732,2108 1731.6,2118.1 C1732,2126 1740,2126 1748.3,2119 C1758,2108 1766,2092 1775,2080 C1783,2072 1792,2070 1795.6,2075.4 C1797,2080 1794,2084 1791.9,2085.6"/>
<path d="M1765,2093 C1761,2102 1762,2114 1771.5,2119.9 C1780,2121 1795,2112 1807.6,2096.8 C1815,2087 1822,2076 1830,2067 C1836,2062 1841,2064 1839.2,2069.9 C1838,2073 1836,2075 1835.4,2075.4"/>
<path d="M1813.2,2087.5 C1820,2088 1830,2090 1834.5,2098 C1837,2107 1830,2112 1822,2112 C1816,2112 1813,2108 1812.3,2105.1"/>
</g>
<ellipse cx="1754.8" cy="2043" rx="5.5" ry="7" transform="rotate(20 1754.8 2043)" fill="#eb1870"/>
</svg>
</body></html>
